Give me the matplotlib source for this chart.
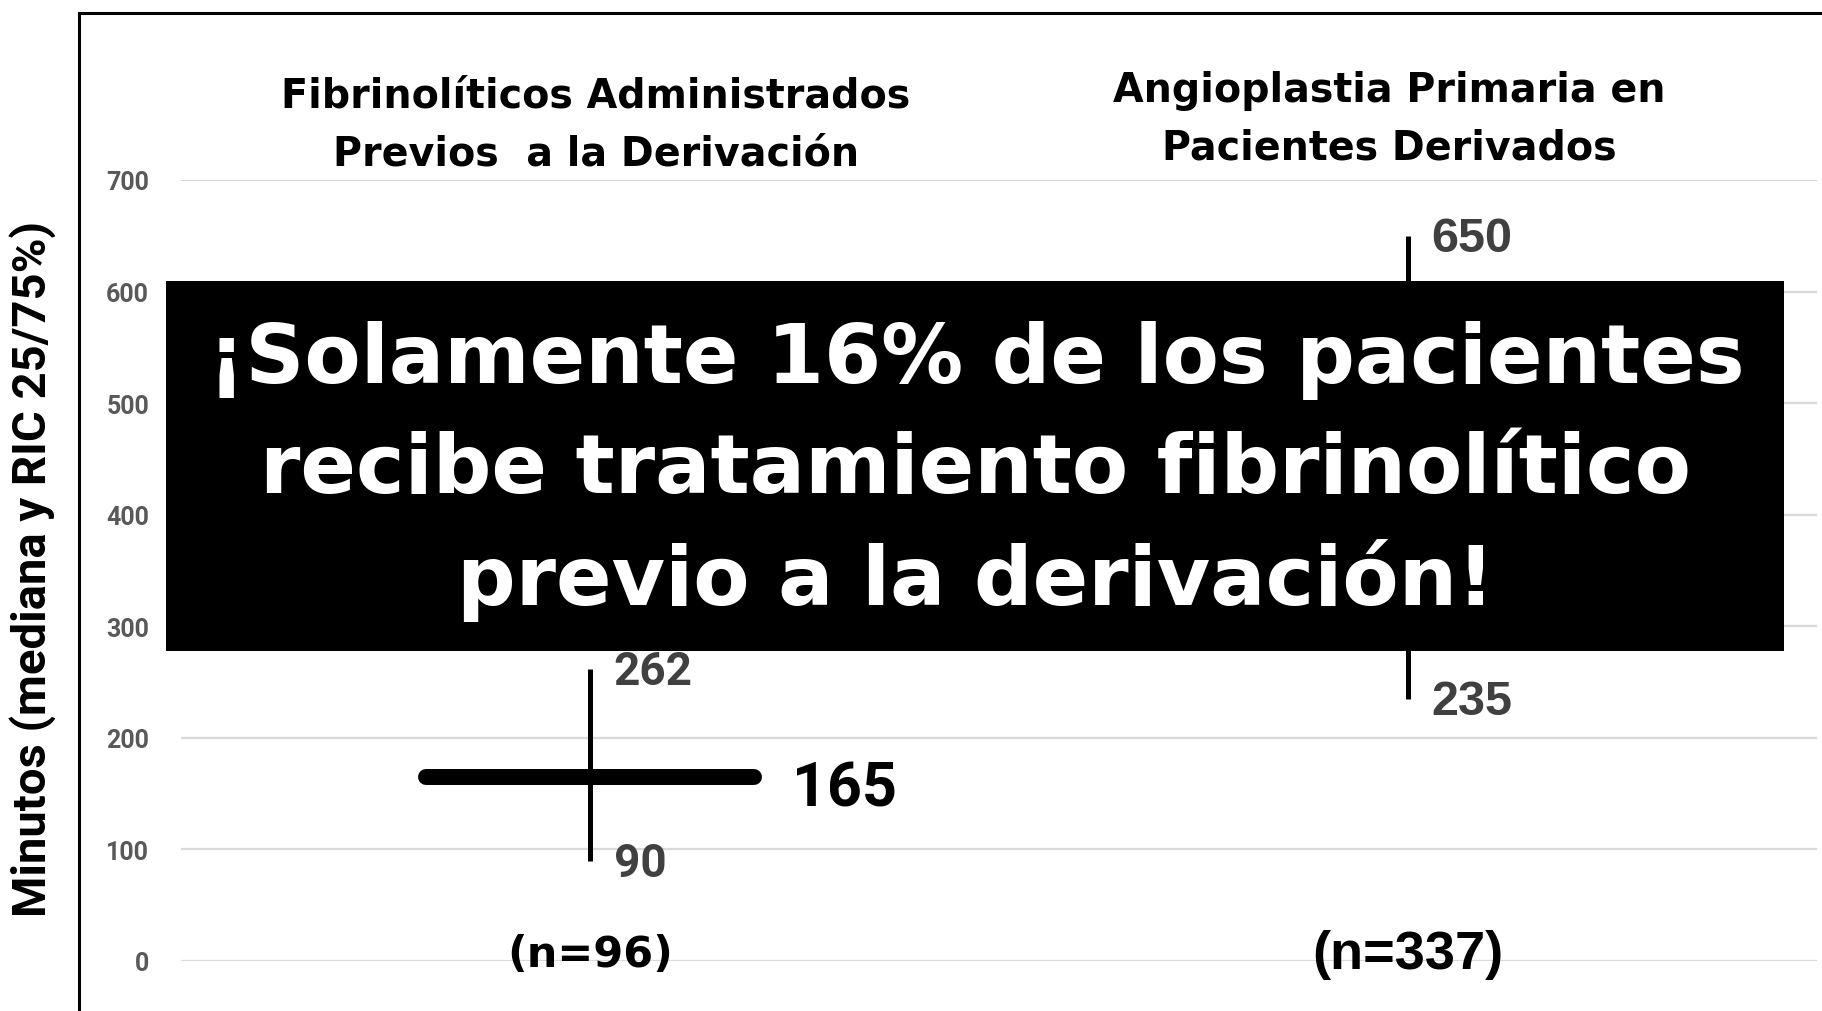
import matplotlib
matplotlib.use("Agg")
from matplotlib import pyplot as plt
from matplotlib.lines import Line2D
from matplotlib.patches import Rectangle

# datos
categorias = [["Fibrinolíticos Administrados", "Previos  a la Derivación"],
              ["Angioplastia Primaria en", "Pacientes Derivados"]]
q25 = [90, 235]
q75 = [262, 650]
mediana_fibrinoliticos = 165
n_pacientes = [96, 337]
yticks = [0, 100, 200, 300, 400, 500, 600, 700]
mensaje = ["¡Solamente 16% de los pacientes",
           "recibe tratamiento fibrinolítico",
           "previo a la derivación!"]

ROBOTO = ["Roboto", "DejaVu Sans"]
DEJAVU = ["DejaVu Sans"]
ARIAL = ["Liberation Sans", "DejaVu Sans"]
plt.rcParams["font.family"] = ROBOTO

W, H = 1822, 1012
fig = plt.figure(figsize=(W / 100, H / 100), dpi=100)
ax = fig.add_axes([181 / W, 50 / H, 1636 / W, 781 / H])

ax.set_xlim(-0.5, 1.5)
ax.set_ylim(0, 700)
ax.set_yticks(yticks)
ax.set_yticklabels([str(t) for t in yticks], fontweight="bold", fontsize=18,
                   color="#595959")
ax.set_xticks([])
ax.grid(axis="y", color="#d9d9d9", linewidth=1.6, zorder=0)
ax.set_axisbelow(True)
for s in ax.spines.values():
    s.set_visible(False)
ax.tick_params(axis="y", length=0, pad=23)

# rangos intercuartilicos
for i in range(len(categorias)):
    ax.plot([i, i], [q25[i], q75[i]], color="black", linewidth=3.6,
            solid_capstyle="butt", zorder=3)

# mediana del grupo con fibrinoliticos
ax.plot([-0.2, 0.2], [mediana_fibrinoliticos, mediana_fibrinoliticos],
        color="black", linewidth=11.5, solid_capstyle="round", zorder=4)
ax.annotate(str(mediana_fibrinoliticos), xy=(0.247, mediana_fibrinoliticos),
            xytext=(0, -8), textcoords="offset points", ha="left", va="center",
            fontsize=44, fontweight="bold", color="black")

# etiquetas de cuartiles
fuentes_q = [ROBOTO, ARIAL]
tam_q = [33, 35]
for i in range(len(categorias)):
    for v in (q25[i], q75[i]):
        ax.annotate(str(v), xy=(i, v), xytext=(17, -2), textcoords="offset points",
                    ha="left", va="center", fontsize=tam_q[i], fontweight="bold",
                    color="#404040", family=fuentes_q[i])

# n de pacientes
fuentes_n = [DEJAVU, ARIAL]
tam_n = [31, 39]
for i, n in enumerate(n_pacientes):
    ax.text(i, 6, f"(n={n})", ha="center", va="center", fontsize=tam_n[i],
            fontweight="bold", color="black", family=fuentes_n[i])

# titulos de categorias
x_cat = [596, 1389]
y_cat = [[97, 155], [91, 149]]
for i, lineas in enumerate(categorias):
    for k, linea in enumerate(lineas):
        fig.text(x_cat[i] / W, 1 - y_cat[i][k] / H, linea, ha="center", va="center",
                 fontsize=28.5, fontweight="bold", color="black", family=DEJAVU)

fig.text(33 / W, 1 - 569 / H, "Minutos (mediana y RIC 25/75%)", rotation=90,
         ha="center", va="center", fontsize=34, fontweight="bold", color="black")

# marco
fig.add_artist(Line2D([79 / W, 79 / W], [0, 1 - 14 / H], color="black", linewidth=2.2))
fig.add_artist(Line2D([79 / W, 1], [1 - 14 / H, 1 - 14 / H], color="black", linewidth=2.2))

# recuadro negro con mensaje
fig.add_artist(Rectangle((166 / W, 1 - 652 / H), (1784 - 166) / W, (652 - 282) / H,
                         transform=fig.transFigure, facecolor="black",
                         edgecolor="none", zorder=10))
for k, linea in enumerate(mensaje):
    yy = [361, 471, 581][k]
    fig.text(976 / W, 1 - yy / H, linea, ha="center", va="center", fontsize=59,
             fontweight="bold", color="white", family=DEJAVU, zorder=11)

fig.savefig("out.png", dpi=100)
